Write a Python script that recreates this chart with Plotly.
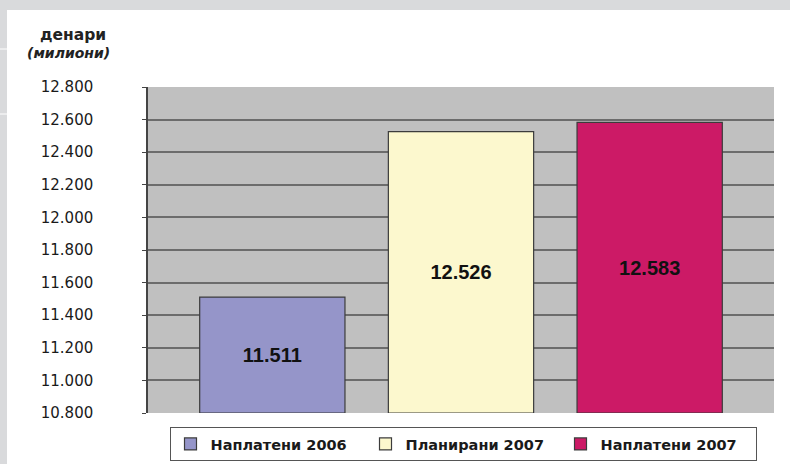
import plotly.graph_objects as go

series_names = ["Наплатени 2006", "Планирани 2007", "Наплатени 2007"]
values = [11511, 12526, 12583]
colors = ["#9595c9", "#fcf8ce", "#cc1a66"]
y_ticks = [10800, 11000, 11200, 11400, 11600, 11800, 12000, 12200, 12400, 12600, 12800]
axis_min = y_ticks[0]

W, H = 790, 464
ML, MR, MT, MB = 148, 16, 87, 51
PW, PH = W - ML - MR, H - MT - MB

def px_x(px):
    return (px - ML) / PW

def px_y(py):
    return (H - MB - py) / PH

def fmt(v):
    return f"{v:,}".replace(",", ".")

fig = go.Figure()
for i, (name, v, c) in enumerate(zip(series_names, values, colors)):
    fig.add_trace(go.Bar(
        x=[i], y=[v - axis_min], base=axis_min, name=name, width=0.77,
        marker=dict(color=c, line=dict(color="#3c3c3c", width=1.2)),
        text=[f"<b>{fmt(v)}</b>"], textposition="inside",
        insidetextanchor="middle", constraintext="none",
        textfont=dict(family="Liberation Sans, Arial", size=20, color="#111111"),
        hoverinfo="skip",
    ))

shapes = [
    dict(type="rect", xref="paper", yref="paper", x0=px_x(-2), x1=px_x(W + 2), y0=px_y(10), y1=px_y(-2),
         fillcolor="#d9dadc", line=dict(width=0), layer="below"),
    dict(type="rect", xref="paper", yref="paper", x0=px_x(-2), x1=px_x(7), y0=px_y(H + 2), y1=px_y(0),
         fillcolor="#d9dadc", line=dict(width=0), layer="below"),
    dict(type="line", xref="paper", yref="paper", x0=px_x(0), x1=px_x(7), y0=px_y(49), y1=px_y(49),
         line=dict(color="#ffffff", width=1)),
    dict(type="line", xref="paper", yref="paper", x0=px_x(0), x1=px_x(7), y0=px_y(114), y1=px_y(114),
         line=dict(color="#ffffff", width=1)),
]

annotations = [
    dict(text="<b>денари</b>", xref="paper", yref="paper", x=px_x(73), y=px_y(35),
         xanchor="center", yanchor="middle",
         showarrow=False, font=dict(family="DejaVu Sans", size=15.5, color="#222222")),
    dict(text="<b><i>(милиони)</i></b>", xref="paper", yref="paper", x=px_x(68), y=px_y(53),
         xanchor="center", yanchor="middle",
         showarrow=False, font=dict(family="DejaVu Sans", size=14, color="#222222")),
]

fig.update_layout(
    width=W, height=H,
    margin=dict(l=ML, r=MR, t=MT, b=MB, pad=0, autoexpand=False),
    paper_bgcolor="#ffffff", plot_bgcolor="#c0c0c0",
    barmode="overlay",
    separators=",.",
    showlegend=True,
    legend=dict(
        orientation="h", x=px_x(463), xanchor="center", y=px_y(427), yanchor="top",
        bgcolor="#ffffff", bordercolor="#555555", borderwidth=1,
        font=dict(family="DejaVu Sans", size=14.5, color="#1a1a1a", weight="bold"),
        entrywidth=150, itemwidth=30,
    ),
    shapes=shapes,
    annotations=annotations,
    font=dict(family="Liberation Sans, Arial"),
)
fig.update_xaxes(range=[-0.659, 2.659], showticklabels=False, showgrid=False, zeroline=False,
                 showline=False, fixedrange=True)
fig.update_yaxes(range=[10800, 12800], tickvals=y_ticks, tickformat=",d",
                 showgrid=True, gridcolor="#6c6c6c", gridwidth=1.5,
                 showline=True, linecolor="#444444", linewidth=1.5,
                 ticks="outside", ticklen=4, tickcolor="#444444",
                 ticklabelstandoff=46, zeroline=False, fixedrange=True,
                 tickfont=dict(family="DejaVu Sans", size=15, color="#1a1a1a"))

fig.write_html("out.html", config={"displayModeBar": False},
               post_script="document.body.style.margin='0';document.body.style.overflow='hidden';")
